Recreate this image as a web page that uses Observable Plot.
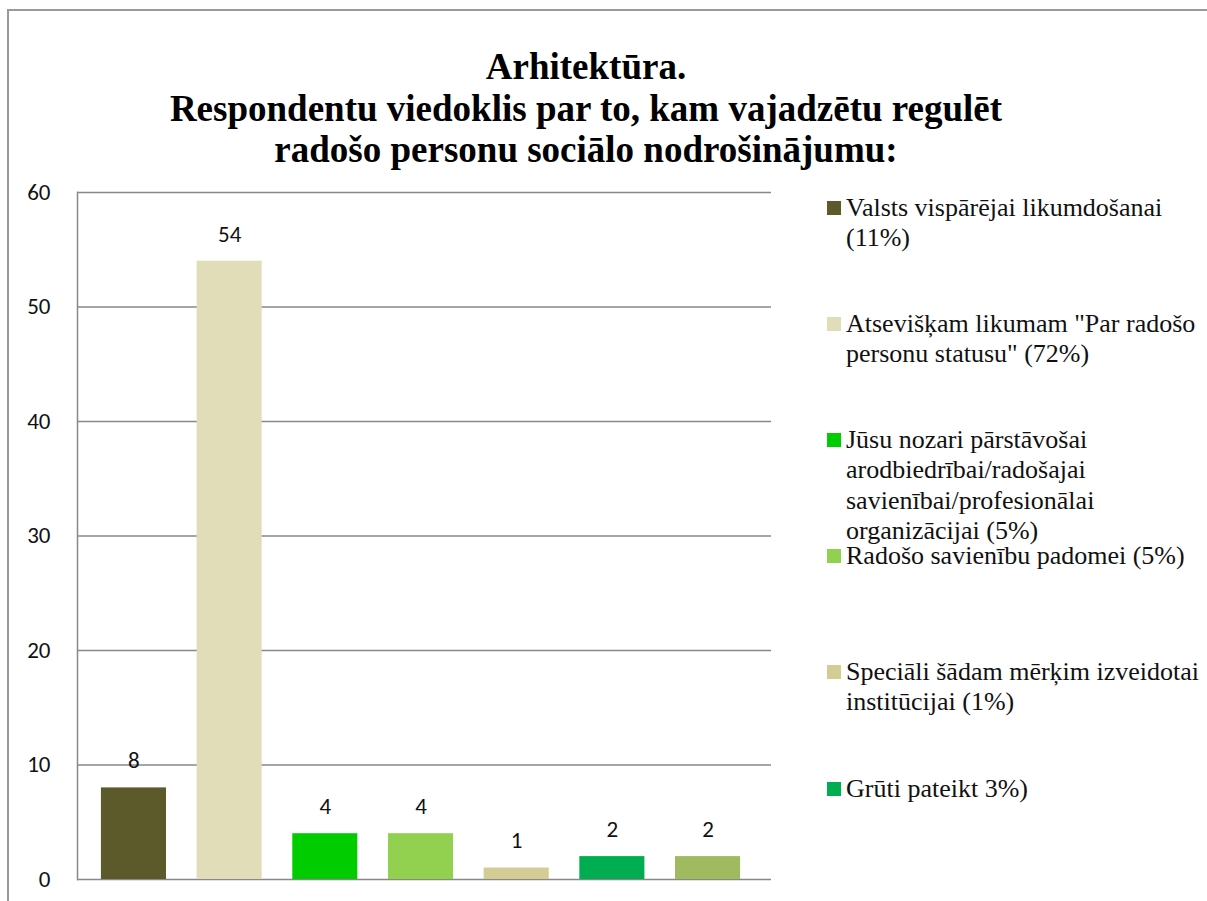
<!DOCTYPE html>
<html>
<head>
<meta charset="utf-8">
<script src="https://cdn.jsdelivr.net/npm/d3@7"></script>
<script src="https://cdn.jsdelivr.net/npm/@observablehq/plot@0.6"></script>
<style>
  html, body { margin: 0; padding: 0; background: #fff; }
  #pg { position: relative; width: 1207px; height: 901px; overflow: hidden; }
  #frm { position: absolute; left: 7px; top: 9px; width: 1300px; height: 1000px;
         border-top: 2px solid #999; border-left: 2px solid #999; }
  #plt { position: absolute; left: 0; top: 0; }
  #hdr { position: absolute; left: 0; top: 46px; width: 1172px; text-align: center;
         font-family: 'Liberation Serif', 'Times New Roman', serif; font-weight: bold;
         font-size: 37px; line-height: 41.5px; color: #000; white-space: pre-line; }
  #key { position: absolute; left: 827px; top: 201px; }
  .ent { position: absolute; left: 0; width: 400px;
         font-family: 'Liberation Serif', 'Times New Roman', serif; font-size: 26px;
         line-height: 30.3px; color: #111; }
  .sw { position: absolute; left: 0; top: 0; width: 14px; height: 14px; }
  .lb { position: absolute; left: 19px; top: -8px; white-space: pre; }
</style>
</head>
<body>
<div id="pg">
  <div id="frm"></div>
  <div id="plt"></div>
  <div id="hdr"></div>
  <div id="key"></div>
</div>
<script>
const titleLines = [
  "Arhitektūra.",
  "Respondentu viedoklis par to, kam vajadzētu regulēt",
  "radošo personu sociālo nodrošinājumu:"
];
const categories = ["c1", "c2", "c3", "c4", "c5", "c6", "c7"];
const values = [8, 54, 4, 4, 1, 2, 2];
const colors = ["#5C5A2B", "#E0DDB8", "#00CC00", "#92D050", "#D3CC94", "#00AD50", "#9FBA5F"];
const legendLabels = [
  "Valsts vispārējai likumdošanai\n(11%)",
  "Atsevišķam likumam \"Par radošo\npersonu statusu\" (72%)",
  "Jūsu nozari pārstāvošai\narodbiedrībai/radošajai\nsavienībai/profesionālai\norganizācijai (5%)",
  "Radošo savienību padomei (5%)",
  "Speciāli šādam mērķim izveidotai\ninstitūcijai (1%)",
  "Grūti pateikt 3%)"
];
const legendOffsets = [0, 116, 232, 348, 464, 581];
const yTicks = [0, 10, 20, 30, 40, 50, 60];

const SANS = "Carlito, Lato, sans-serif";

document.getElementById("hdr").textContent = titleLines.join("\n");

const data = categories.map((c, i) => ({cat: c, value: values[i], color: colors[i]}));

const plot = Plot.plot({
  width: 1207,
  height: 901,
  marginLeft: 77,
  marginRight: 436,
  marginTop: 192,
  marginBottom: 22,
  style: {fontFamily: SANS, fontSize: "23px", background: "transparent", overflow: "visible"},
  x: {domain: categories, range: [77, 764], round: false, padding: 0.32, paddingOuter: 0.25, axis: null},
  y: {domain: [0, 60], ticks: yTicks},
  color: {type: "identity"},
  marks: [
    Plot.ruleY(yTicks, {stroke: "#888", strokeWidth: 1.5}),
    Plot.frame({anchor: "left", stroke: "#888", strokeWidth: 1.5}),
    Plot.barY(data, {x: "cat", y: "value", fill: "color"}),
    Plot.text(data, {x: "cat", y: "value", text: d => String(d.value), dy: -27, fill: "#111", fontSize: 23}),
    Plot.axisY({ticks: yTicks, tickSize: 0, tickPadding: 27, label: null, fontSize: 23, fill: "#111"})
  ]
});
plot.querySelectorAll("text").forEach(t => { t.style.fontFamily = SANS; });
document.getElementById("plt").appendChild(plot);

const key = document.getElementById("key");
legendLabels.forEach((lab, i) => {
  const e = document.createElement("div");
  e.className = "ent";
  e.style.top = legendOffsets[i] + "px";
  const sw = document.createElement("div");
  sw.className = "sw";
  sw.style.background = colors[i];
  const t = document.createElement("div");
  t.className = "lb";
  t.textContent = lab;
  e.appendChild(sw);
  e.appendChild(t);
  key.appendChild(e);
});
</script>
</body>
</html>
